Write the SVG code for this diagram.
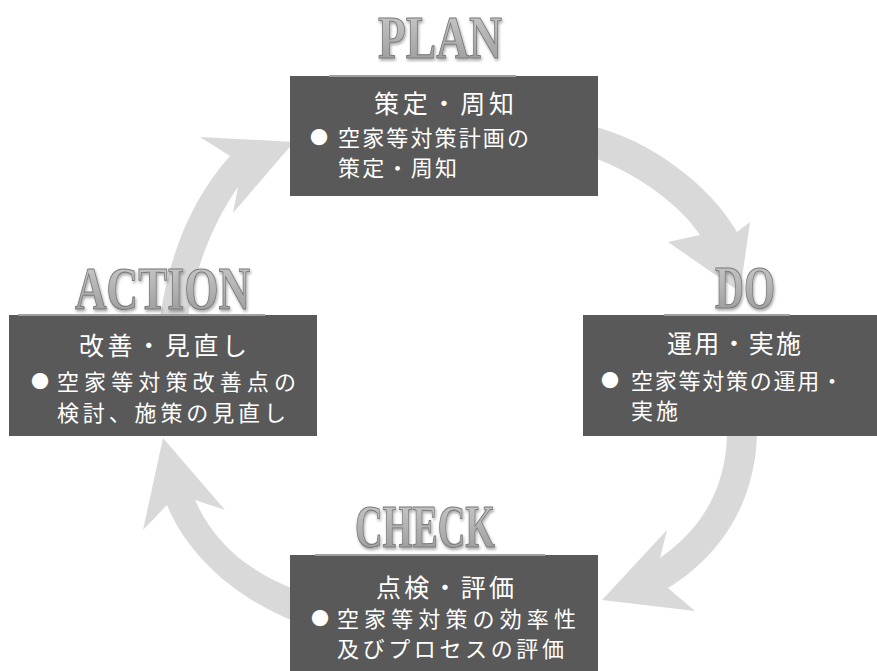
<svg xmlns="http://www.w3.org/2000/svg" width="877" height="671" viewBox="0 0 877 671">
<defs>
<linearGradient id="tg" x1="0" y1="0" x2="0" y2="1">
<stop offset="0" stop-color="#cfcfcf"/>
<stop offset="0.5" stop-color="#b3b3b3"/>
<stop offset="1" stop-color="#959595"/>
</linearGradient>
<filter id="sh" x="-10%" y="-20%" width="120%" height="150%">
<feGaussianBlur in="SourceAlpha" stdDeviation="1.5"/>
<feOffset dx="1" dy="2" result="b"/>
<feComponentTransfer><feFuncA type="linear" slope="0.35"/></feComponentTransfer>
<feMerge><feMergeNode/><feMergeNode in="SourceGraphic"/></feMerge>
</filter>
</defs>
<style>
.box{fill:#595959}
.uline{stroke:#a0a0a0;stroke-width:2}
.ttl{font-family:"Liberation Serif","DejaVu Serif",serif;font-weight:bold;font-size:62px;fill:url(#tg);stroke:#7a7a7a;stroke-width:1.1;filter:url(#sh)}
.hd{font-family:"Noto Sans CJK JP",sans-serif;font-size:25px;fill:#ffffff}
.bd{font-family:"Noto Sans CJK JP",sans-serif;font-size:22px;fill:#ffffff}
.bl{font-family:"Noto Sans CJK JP",sans-serif;font-size:18px;fill:#ffffff;text-anchor:middle}
.arr{fill:#d9d9d9}
</style>
<rect width="877" height="671" fill="#ffffff"/>
<g id="connectors">
<path class="arr" d="M592,126 C650,140 710,185 737,232 L750,222 L740,292 L668,242 L700,235 C680,205 640,175 592,157 Z"/>
<path class="arr" d="M757,430 C757,490 730,550 668,588 L695,611 L602,600 L667,530 L660,558 C700,530 727,490 727,430 Z"/>
<path class="arr" d="M296,622 C240,600 190,560 167,505 L143,530 L163,438 L225,510 L195,500 C215,545 250,572 296,590 Z"/>
<path class="arr" d="M160,318 C168,260 190,200 230,156 L200,137 L294,142 L233,213 L238,187 C215,220 195,265 188,318 Z"/>
</g>
<g id="plan">
<rect class="box" x="290" y="76" width="308" height="120"/>
<line class="uline" x1="329" y1="76" x2="516" y2="76"/>
<text class="ttl" x="378" y="58" textLength="124" lengthAdjust="spacingAndGlyphs">PLAN</text>
<text class="hd" x="374" y="113" textLength="140">策定・周知</text>
<text class="bl" x="319" y="144">●</text>
<text class="bd" x="338" y="146" textLength="191">空家等対策計画の</text>
<text class="bd" x="338" y="176" textLength="119">策定・周知</text>
</g>
<g id="do">
<rect class="box" x="583" y="315" width="300" height="121"/>
<line class="uline" x1="664" y1="315" x2="790" y2="315"/>
<text class="ttl" x="715" y="308" textLength="60" lengthAdjust="spacingAndGlyphs">DO</text>
<text class="hd" x="667" y="353" textLength="134">運用・実施</text>
<text class="bl" x="610" y="387">●</text>
<text class="bd" x="631" y="389" textLength="212">空家等対策の運用・</text>
<text class="bd" x="631" y="419" textLength="47">実施</text>
</g>
<g id="check">
<rect class="box" x="290" y="555" width="308" height="120"/>
<line class="uline" x1="315" y1="555" x2="545" y2="555"/>
<text class="ttl" x="355" y="547" textLength="140" lengthAdjust="spacingAndGlyphs">CHECK</text>
<text class="hd" x="376" y="597" textLength="138">点検・評価</text>
<text class="bl" x="320" y="625">●</text>
<text class="bd" x="337" y="627" textLength="239">空家等対策の効率性</text>
<text class="bd" x="337" y="657" textLength="227">及びプロセスの評価</text>
</g>
<g id="action">
<rect class="box" x="9" y="315" width="308" height="121"/>
<line class="uline" x1="18" y1="315" x2="265" y2="315"/>
<text class="ttl" x="75" y="309" textLength="175" lengthAdjust="spacingAndGlyphs">ACTION</text>
<text class="hd" x="79" y="355" textLength="168">改善・見直し</text>
<text class="bl" x="40" y="388">●</text>
<text class="bd" x="57" y="390" textLength="239">空家等対策改善点の</text>
<text class="bd" x="57" y="421" textLength="229">検討、施策の見直し</text>
</g>
</svg>
